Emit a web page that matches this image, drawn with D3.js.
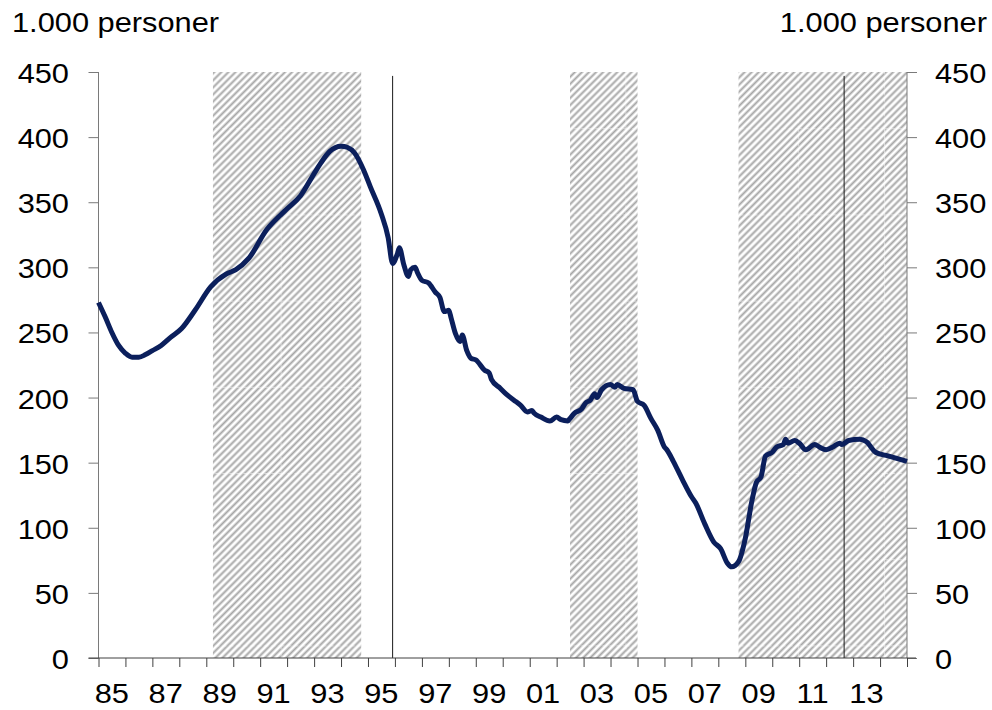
<!DOCTYPE html>
<html>
<head>
<meta charset="utf-8">
<script src="https://cdn.jsdelivr.net/npm/d3@7"></script>
<style>
  body { margin: 0; background: #fff; }
  svg text { font-family: "Liberation Sans", Arial, sans-serif; fill: #000; }
</style>
</head>
<body>
<svg id="chart" width="992" height="710"></svg>
<script>
// monthly observations, 1.000 persons
const months = [
  "1985-01","1985-04","1985-07","1985-10","1986-01","1986-04","1986-07","1986-10",
  "1987-01","1987-05","1987-09","1988-02","1988-08","1989-03","1989-10","1990-02",
  "1990-08","1991-04","1991-10","1992-01","1992-07","1993-01","1993-04","1993-08",
  "1994-01","1994-04","1994-07","1994-11","1995-02","1995-07","1995-10","1995-12",
  "1996-02","1996-03","1996-05","1996-07","1996-08","1996-10","1996-11","1997-01",
  "1997-04","1997-07","1997-09","1997-11","1998-01","1998-02","1998-04","1998-06",
  "1998-07","1998-09","1998-11","1999-01","1999-05","1999-07","1999-08","1999-12",
  "2000-03","2000-06","2000-09","2000-12","2001-02","2001-03","2001-06","2001-10",
  "2002-01","2002-03","2002-06","2002-07","2002-09","2002-12","2003-02","2003-04",
  "2003-06","2003-07","2003-09","2004-01","2004-03","2004-04","2004-07","2004-11",
  "2005-01","2005-04","2005-07","2005-10","2006-01","2006-02","2006-05","2006-09",
  "2007-01","2007-03","2007-07","2007-11","2008-02","2008-05","2008-07","2008-10",
  "2009-01","2009-04","2009-06","2009-08","2009-10","2010-01","2010-03","2010-06",
  "2010-07","2010-08","2010-11","2011-01","2011-04","2011-08","2011-10","2012-01",
  "2012-04","2012-07","2012-08","2012-11","2013-04","2013-07","2013-11","2014-05",
  "2015-01"
];
const persons = [
  273,262,250,240,234,231,231,233,
  236,240,246,253,267,285,295,298,
  307,329,340,345,355,372,380,389,
  393,392,388,375,362,341,323,303,
  310,315,302,293,298,300,296,290,
  288,281,277,266,267,261,249,243,
  248,236,230,229,221,219,214,207,
  202,198,194,189,190,188,185,182,
  185,183,182,184,188,191,196,198,
  203,200,206,210,208,210,207,206,
  197,194,184,175,162,160,151,137,
  124,119,103,89,84,73,70,74,
  92,121,135,139,155,158,162,164,
  168,165,167,165,160,164,162,160,
  162,165,164,167,168,166,158,155,
  151
];

// shaded periods and vertical markers
const shadeFrom = ["1989-04", "2002-07", "2008-10"];
const shadeTo   = ["1994-10", "2005-01", "2015-01"];
const markers   = ["1995-12", "2012-09"];

const yTicks = [0, 50, 100, 150, 200, 250, 300, 350, 400, 450];
const yearLabels = ["85","87","89","91","93","95","97","99","01","03","05","07","09","11","13"];
const yAxisTitle = "1.000 personer";

const parse = d3.timeParse("%Y-%m");
const data = months.map((m, i) => ({ date: parse(m), value: persons[i] }));

const svg = d3.select("#chart");
const plot = { left: 98.5, right: 907, top: 72, bottom: 658 };
const FS = 28, SX = 1.1;

const x = d3.scaleTime()
  .domain([new Date(1985, 0, 1), new Date(2015, 0, 1)])
  .range([plot.left, plot.right]);
const y = d3.scaleLinear().domain([0, 450]).range([plot.bottom, plot.top]);

// hatch pattern
const defs = svg.append("defs");
const hatch = defs.append("pattern")
  .attr("id", "hatch")
  .attr("patternUnits", "userSpaceOnUse")
  .attr("width", 5).attr("height", 10)
  .attr("patternTransform", "rotate(45)");
hatch.append("rect").attr("width", 5).attr("height", 10).attr("fill", "#fff");
hatch.append("line")
  .attr("x1", 2.5).attr("x2", 2.5).attr("y1", 0).attr("y2", 10)
  .attr("stroke", "#a6a6a6").attr("stroke-width", 2);

// faint tile seams seen in the reference fill
const seams = defs.append("pattern")
  .attr("id", "seams")
  .attr("patternUnits", "userSpaceOnUse")
  .attr("x", 22).attr("y", 42)
  .attr("width", 86.2).attr("height", 86.2);
seams.append("path")
  .attr("d", "M0.5,0V86.2M0,0.5H86.2")
  .attr("stroke", "#fff").attr("stroke-opacity", 0.5)
  .attr("stroke-width", 1.2).attr("stroke-dasharray", "4,3");

const shades = shadeFrom.map((s, i) => ({ a: parse(s), b: parse(shadeTo[i]) }));
["url(#hatch)", "url(#seams)"].forEach(fill => {
  svg.append("g").selectAll("rect")
    .data(shades)
    .join("rect")
    .attr("x", d => x(d.a))
    .attr("width", d => x(d.b) - x(d.a))
    .attr("y", plot.top)
    .attr("height", plot.bottom - plot.top)
    .attr("fill", fill);
});

// vertical marker lines
svg.append("g").selectAll("line")
  .data(markers)
  .join("line")
  .attr("x1", d => x(parse(d))).attr("x2", d => x(parse(d)))
  .attr("y1", y(447)).attr("y2", plot.bottom)
  .attr("stroke", "#1a1a1a").attr("stroke-width", 1);

// axes
const yl = svg.append("g")
  .attr("transform", `translate(${plot.left},0)`)
  .call(d3.axisLeft(y).tickValues(yTicks).tickSize(10).tickFormat(""));
const yr = svg.append("g")
  .attr("transform", `translate(${plot.right},0)`)
  .call(d3.axisRight(y).tickValues(yTicks).tickSize(10).tickFormat(""));
[yl, yr].forEach(g => {
  g.select(".domain").attr("stroke", "#7a7a7a").attr("d", `M0,${plot.top}V${plot.bottom}`);
  g.selectAll(".tick line").attr("stroke", "#7a7a7a");
});

const xg = svg.append("g")
  .attr("transform", `translate(0,${plot.bottom})`)
  .call(d3.axisBottom(x).ticks(d3.timeYear.every(1)).tickSize(9).tickFormat(""));
xg.select(".domain").attr("stroke", "#404040").attr("d", `M${plot.left - 10},0H${plot.right + 9}`);
xg.selectAll(".tick line").attr("stroke", "#404040");

// text helper (reference glyphs are a bit wide)
const txt = (g, tx, ty, s, anchor) =>
  g.append("text")
    .attr("transform", `translate(${tx},${ty}) scale(${SX},1)`)
    .attr("text-anchor", anchor)
    .attr("dominant-baseline", "central")
    .attr("font-size", FS)
    .text(s);

const lab = svg.append("g");
yTicks.forEach(v => {
  txt(lab, 69, y(v) + 1, v, "end");
  txt(lab, 935, y(v) + 1, v, "start");
});

// x labels centered on odd years
yearLabels.forEach(s => {
  const yr4 = +s < 50 ? 2000 + +s : 1900 + +s;
  txt(lab, x(new Date(yr4, 6, 1)), 693, s, "middle");
});

// axis titles
txt(lab, 12, 22, yAxisTitle, "start");
txt(lab, 987, 22, yAxisTitle, "end");

// series line
const line = d3.line()
  .x(d => x(d.date))
  .y(d => y(d.value))
  .curve(d3.curveMonotoneX);
svg.append("path")
  .datum(data)
  .attr("d", line)
  .attr("fill", "none")
  .attr("stroke", "#0b1f5c")
  .attr("stroke-width", 5)
  .attr("stroke-linejoin", "round");
</script>
</body>
</html>
